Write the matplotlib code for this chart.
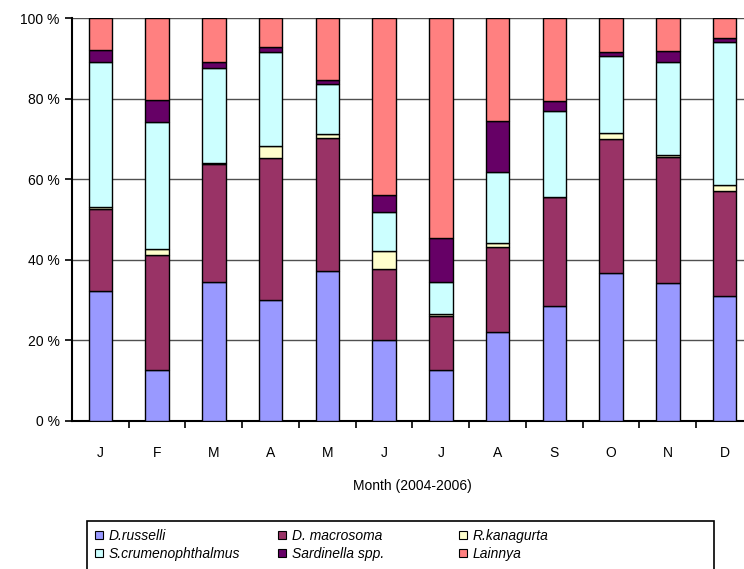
import matplotlib
matplotlib.use("Agg")
import matplotlib.pyplot as plt
from matplotlib.patches import Patch, Rectangle
import numpy as np

months = ["J", "F", "M", "A", "M", "J", "J", "A", "S", "O", "N", "D"]
species = ["D.russelli", "D. macrosoma", "R.kanagurta",
           "S.crumenophthalmus", "Sardinella spp.", "Lainnya"]
colors = ["#9999FF", "#993366", "#FFFFCC", "#CCFFFF", "#660066", "#FF8080"]

# percentage share per month
d_russelli = [32.2, 12.7, 34.6, 30.0, 37.3, 20.0, 12.6, 22.0, 28.5, 36.7, 34.2, 30.9]
d_macrosoma = [20.3, 28.5, 29.2, 35.2, 33.0, 17.8, 13.4, 21.2, 27.1, 33.2, 31.3, 26.1]
r_kanagurta = [0.5, 1.6, 0.2, 3.1, 0.8, 4.4, 0.6, 1.0, 0.1, 1.5, 0.5, 1.5]
s_crumen = [36.0, 31.5, 23.5, 23.2, 12.4, 9.7, 8.0, 17.7, 21.1, 19.1, 23.1, 35.5]
sardinella = [3.1, 5.3, 1.7, 1.3, 1.0, 4.1, 10.7, 12.5, 2.7, 1.0, 2.6, 1.1]
lainnya = [7.9, 20.4, 10.8, 7.2, 15.5, 44.0, 54.7, 25.6, 20.5, 8.5, 8.3, 4.9]

series = [d_russelli, d_macrosoma, r_kanagurta, s_crumen, sardinella, lainnya]

plt.rcParams["font.family"] = ["Liberation Sans", "DejaVu Sans"]

W, H = 744, 569
fig = plt.figure(figsize=(W / 100, H / 100), dpi=100)
ax = fig.add_axes([72 / W, 1 - 421 / H, 681 / W, 403 / H])

x = np.arange(len(months))
bottom = np.zeros(len(months))
for values, color, name in zip(series, colors, species):
    values = np.array(values)
    ax.bar(x, values, width=0.41, bottom=bottom, color=color,
           edgecolor="black", linewidth=1.0, label=name, zorder=3)
    bottom += values

ax.set_xlim(-0.5, 11.5)
ax.set_ylim(0, 100)
ax.set_yticks(range(0, 101, 20))
ax.set_yticklabels([f"{v} %" for v in range(0, 101, 20)], fontsize=10)
ax.set_xticks(x)
ax.set_xticklabels(months, fontsize=10)
ax.set_xticks(np.arange(0.5, 11.5, 1), minor=True)
ax.tick_params(axis="x", which="major", length=0, pad=18)
ax.tick_params(axis="x", which="minor", length=5, width=1.2, direction="out")
ax.tick_params(axis="y", length=5, width=1.2, direction="out", pad=4)
ax.yaxis.grid(True, color="#505050", linewidth=1.0, zorder=0)
ax.set_axisbelow(True)
for side in ["top", "right"]:
    ax.spines[side].set_visible(False)
ax.spines["left"].set_linewidth(1.5)
ax.spines["bottom"].set_linewidth(1.5)
ax.set_xlabel("Month (2004-2006)", fontsize=10, labelpad=14)

# legend frame, cut off by the bottom of the image like the original
fig.add_artist(Rectangle((87 / W, -0.05), (714 - 87) / W, 0.05 + (H - 521) / H,
                         transform=fig.transFigure, facecolor="white",
                         edgecolor="black", linewidth=1.2, clip_on=False))

# three legend columns
columns = [(0, 3), (1, 4), (2, 5)]
col_x = [95, 278, 459]
for (top, low), cx in zip(columns, col_x):
    handles = [Patch(facecolor=colors[i], edgecolor="black", linewidth=0.8)
               for i in (top, low)]
    leg = fig.legend(handles, [species[top], species[low]], loc="upper left",
                     bbox_to_anchor=(cx / W, 1 - 529 / H), frameon=False,
                     prop={"style": "italic", "size": 10},
                     handlelength=0.55, handleheight=0.55, handletextpad=0.45,
                     labelspacing=0.3, borderpad=0, borderaxespad=0)

fig.savefig("out.png", dpi=100)
